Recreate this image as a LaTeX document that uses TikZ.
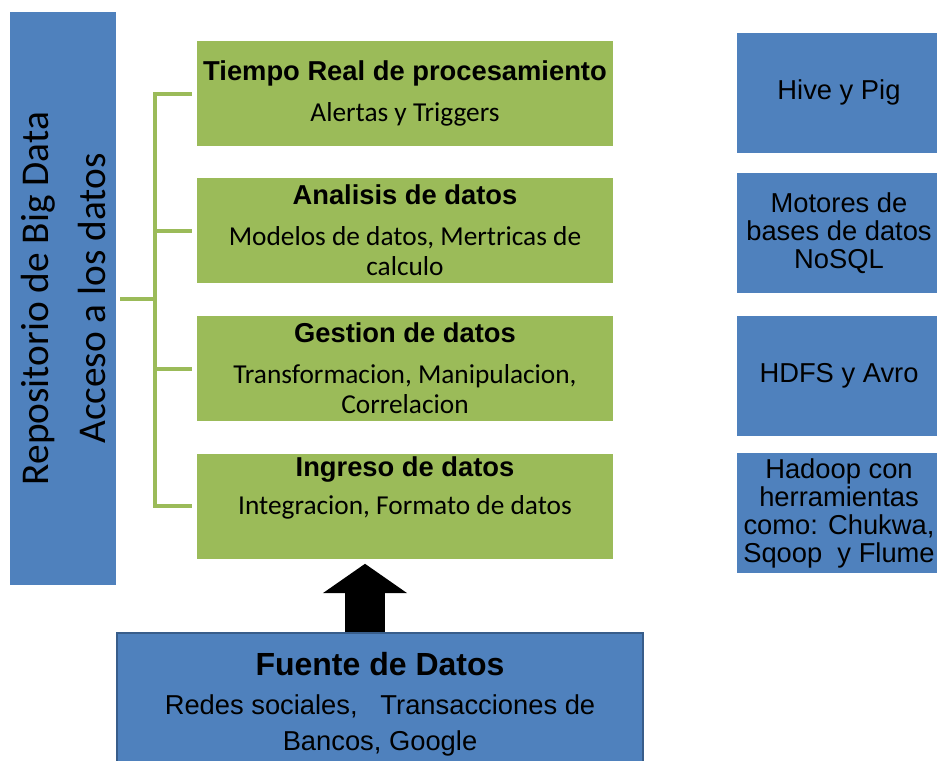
\documentclass[tikz,border=0pt]{standalone}
\usepackage{fontspec}
\setmainfont{Liberation Sans}
\newfontfamily\calibri{Carlito}
\usepackage{tikz}
\usetikzlibrary{arrows.meta, positioning, calc}

\definecolor{verde}{HTML}{9BBB59}
\definecolor{azul}{HTML}{4F81BD}
\definecolor{azulborde}{HTML}{385D8A}

\newcommand{\titulo}[1]{{\rmfamily\bfseries\fontsize{20.5}{22.5}\selectfont #1}}

\begin{document}
\begin{tikzpicture}[x=0.75pt,y=-0.75pt,
    caja/.style={rectangle,fill=verde,minimum width=312pt,minimum height=78.75pt,inner xsep=2pt,inner ysep=0pt,align=center,font=\calibri\fontsize{20.5}{22.5}\selectfont},
    lateral/.style={rectangle,fill=azul,minimum width=153pt,minimum height=90pt,inner xsep=0pt,inner ysep=0pt,align=center,font=\fontsize{20.5}{21}\selectfont},
    llave/.style={draw=verde,line width=3pt},
    flecha/.style={-{Triangle[width=62pt,length=22pt]},line width=30pt,black}]
    \useasboundingbox (0,0) rectangle (937,760);

    % Barra lateral
    \node[rectangle,fill=azul,rotate=90,minimum width=429.75pt,minimum height=79.5pt,align=center,font=\calibri\fontsize{29.5}{42.75}\selectfont] (repo) at (63,298.5) {Repositorio de Big Data\\Acceso a los datos};

    % Capas
    \node[caja] (tiempo) at (405,93.5) {\titulo{Tiempo Real de procesamiento}\\[8pt]Alertas y Triggers};
    \node[caja] (analisis) at (405,230.5) {\titulo{Analisis de datos}\\[8pt]Modelos de datos, Mertricas de\\calculo};
    \node[caja] (gestion) at (405,368.5) {\titulo{Gestion de datos}\\[8pt]Transformacion, Manipulacion,\\Correlacion};
    \node[caja,text depth=30pt] (ingreso) at (405,506) {\titulo{Ingreso de datos}\\[6pt]Integracion, Formato de datos};

    % Herramientas
    \node[lateral] (hive) at (839,92.5) {Hive y Pig};
    \node[lateral] (motores) at (839,233) {Motores de\\bases de datos\\NoSQL};
    \node[lateral] (hdfs) at (839,375.5) {HDFS y Avro};
    \node[lateral] (hadoop) at (839,513) {Hadoop con\\herramientas\\como: Chukwa,\\Sqoop\ \ y Flume};

    % Fuente
    \node[rectangle,fill=azul,draw=azulborde,line width=1.5pt,minimum width=394.5pt,minimum height=107.25pt,align=center,font=\fontsize{20.5}{27}\selectfont] (fuente) at (380,704.5) {{\bfseries\fontsize{24}{27}\selectfont Fuente de Datos}\\[2pt]Redes sociales,\ \ \ Transacciones de\\Bancos, Google};

    % Llave
    \coordinate (eje) at (155,298.5);
    \draw[llave,shorten <=3pt] (repo.south) -- (eje);
    \draw[llave,shorten >=3.75pt] (eje) |- (tiempo.west);
    \draw[llave,shorten >=3.75pt] (eje) |- (analisis.west);
    \draw[llave,shorten >=3.75pt] (eje) |- (gestion.west);
    \draw[llave,shorten >=3.75pt] (eje) |- (ingreso.west);

    % Flecha
    \draw[flecha,shorten >=3.75pt] ([xshift=-11.25pt]fuente.north) -- ([xshift=-11.25pt]fuente.north |- ingreso.south);
\end{tikzpicture}
\end{document}
